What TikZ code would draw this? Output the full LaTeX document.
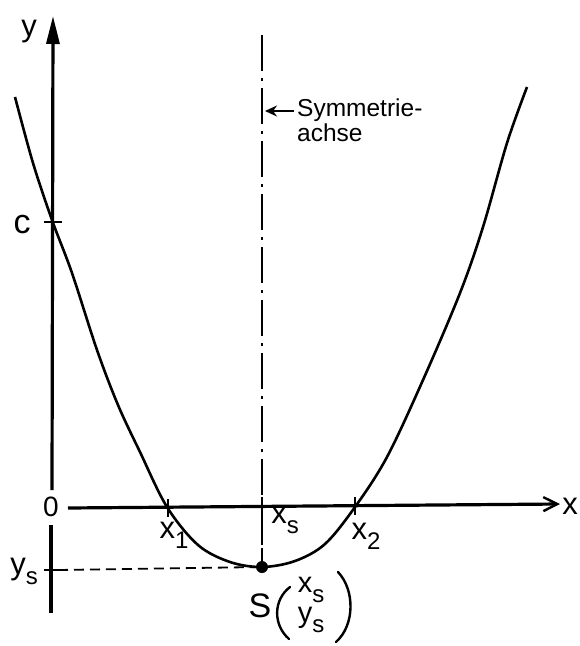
\documentclass[tikz,border=0pt]{standalone}
\usepackage{fontspec}
\setmainfont{Liberation Sans}
\usetikzlibrary{arrows.meta}
\newcommand\lowsub[1]{\raisebox{-0.32em}{\fontsize{24}{24}\selectfont #1}}
\begin{document}
\begin{tikzpicture}[x=1pt,y=-1pt,
  axis/.style={line width=3.2pt},
  curve/.style={line width=2.6pt,line join=round},
  hand/.style={font=\fontsize{31}{32}\selectfont,inner sep=0pt},
  tickmark/.style={line width=2.4pt},
  symaxis/.style={line width=2pt,dash pattern=on 36pt off 7pt on 3pt off 7pt},
  helper/.style={line width=1.8pt,dash pattern=on 10pt off 6pt},
  paren/.style={line width=2.4pt,line cap=round}]
\useasboundingbox (0,0) rectangle (579,646);
% coordinates
\coordinate (ybot) at (51,613);
\coordinate (ygap1) at (51,525);
\coordinate (ygap2) at (52,490);
\coordinate (ytop) at (53,16);
\coordinate (xstart) at (68,508);
\coordinate (xend) at (560,504);
\coordinate (S) at (262,567);
\coordinate (symtop) at (262,35);
\coordinate (ysonaxis) at (58,570);
% axes
\draw[axis] (ybot) -- (ygap1);
\draw[axis,-{Triangle[length=28pt,width=13pt]}] (ygap2) -- (ytop);
\draw[axis,-{Straight Barb[length=14pt,width=14pt,line width=2.4pt]}] (xstart) -- (xend);
\node[hand,anchor=east] (xlab) at (578,506) {x};
\node[hand] (ylab) at (29,32) {y};
\node[hand,font=\fontsize{28}{30}\selectfont] (zero) at (51,507) {0};
% c
\draw[tickmark] (44,222) -- (62,222);
\node[hand,font=\fontsize{34}{34}\selectfont] (clab) at (22,225) {c};
% parabola
\draw[curve] plot[smooth,tension=0.55] coordinates {(15,97) (33,163) (52,220) (72,273) (97,350) (118,405) (140,452) (167,507) (198,545) (230,562) (262,567) (295,561) (325,544) (355,507) (387,457) (423,380) (460,293) (483,227) (507,143) (527,87)};
% ticks on x axis
\draw[tickmark] (168,499) -- (168,517);
\draw[tickmark] (262,497) -- (262,517);
\draw[tickmark] (355,497) -- (355,515);
\node[hand] (x1lab) at (174,535) {x\lowsub{1}};
\node[hand] (xslab) at (285,520) {x\lowsub{s}};
\node[hand] (x2lab) at (366,536) {x\lowsub{2}};
% symmetry axis
\draw[symaxis] (symtop) -- (262,545);
\draw[line width=2pt] (262,548) -- (S);
\node[font=\fontsize{24.5}{25}\selectfont,align=left,anchor=north west,inner sep=0pt] (symlab) at (297,99) {Symmetrie-\\achse};
\coordinate (symarr) at (265,111);
\draw[line width=1.8pt,-{Stealth[length=12pt,width=11pt]}] (symlab.west |- 0,111) ++(-3,0) -- (symarr);
% ys
\draw[helper] (ysonaxis) -- (S);
\draw[tickmark] (44,570) -- (58,570);
\node[hand] (yslab) at (24,571) {y\lowsub{s}};
% vertex
\fill (S) circle (6pt);
\node[hand,font=\fontsize{34}{34}\selectfont] (Slab) at (260,606) {S};
\draw[paren] (290,587) .. controls (273,600) and (273,625) .. (289,639);
\draw[paren] (338,572) .. controls (355,590) and (355,625) .. (336,642);
\node[hand,font=\fontsize{29}{30}\selectfont] (xsv) at (311,590) {x\lowsub{s}};
\node[hand,font=\fontsize{29}{30}\selectfont] (ysv) at (311,620) {y\lowsub{s}};
\end{tikzpicture}
\end{document}
